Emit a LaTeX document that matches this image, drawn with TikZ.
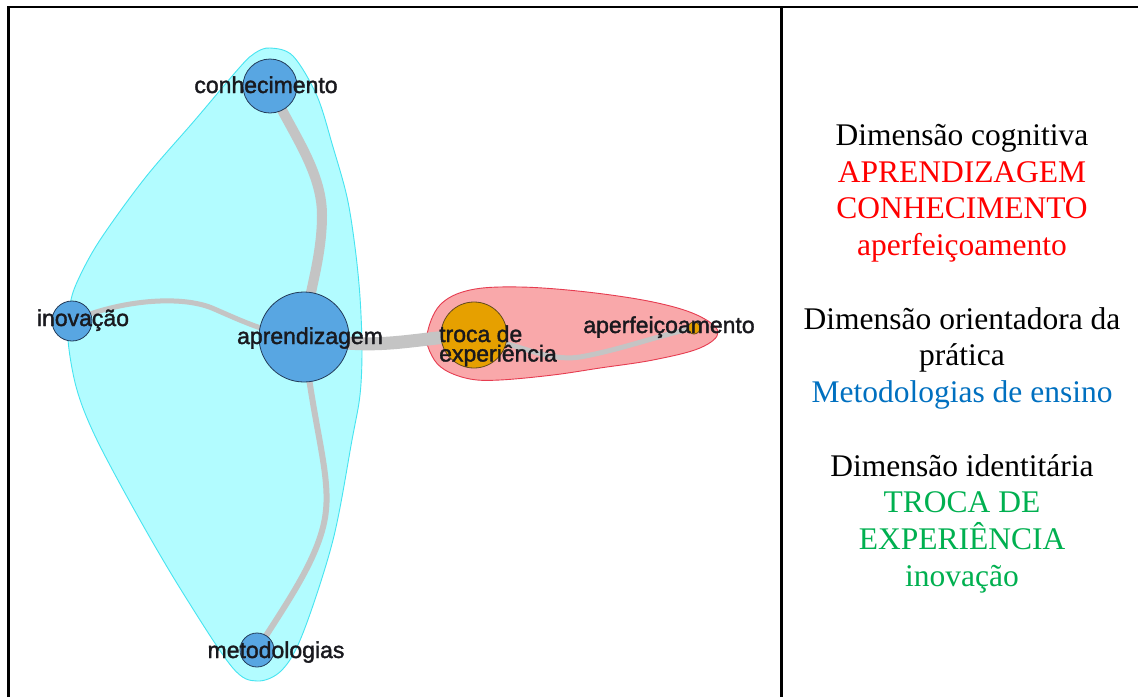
\documentclass[tikz,border=0pt]{standalone}
\usepackage{fontspec}
\setmainfont{Liberation Serif}
\newfontfamily\graphfont[FakeBold=1.6]{Liberation Sans}
\begin{document}
\begin{tikzpicture}[x=1pt,y=-1pt,
  hullcyan/.style={fill=cyanfill,draw=cyanline,line width=0.9pt},
  hullred/.style={fill=redfill,draw=redline,line width=0.9pt},
  edgeline/.style={draw=edgegray,line cap=round},
  vblue/.style={circle,fill=vtxblue,draw=vtxline,line width=0.8pt,inner sep=0pt},
  vorange/.style={circle,fill=vtxorange,draw=vtxbrown,line width=0.8pt,inner sep=0pt},
  wordlabel/.style={font=\graphfont\fontsize{23}{19.5}\selectfont,text=labelink,inner sep=0pt,anchor=base},
  legend/.style={font=\fontsize{31.5}{36.7}\selectfont,align=center,inner sep=0pt,anchor=north},
  frame/.style={line width=2.7pt,black}]
\definecolor{cyanfill}{RGB}{178,252,255}
\definecolor{cyanline}{RGB}{70,228,240}
\definecolor{redfill}{RGB}{249,168,170}
\definecolor{redline}{RGB}{230,60,80}
\definecolor{edgegray}{RGB}{196,196,196}
\definecolor{vtxblue}{RGB}{88,166,226}
\definecolor{vtxline}{RGB}{35,60,90}
\definecolor{vtxorange}{RGB}{230,160,0}
\definecolor{vtxbrown}{RGB}{100,75,30}
\definecolor{labelink}{RGB}{25,25,30}
\definecolor{legred}{RGB}{255,0,0}
\definecolor{legblue}{RGB}{0,112,192}
\definecolor{leggreen}{RGB}{0,176,80}

\useasboundingbox (0,0) rectangle (1138,697);
\fill[white] (0,0) rectangle (1138,697);

% table frame
\draw[frame] (8.5,697) -- (8.5,7) -- (1138,7);
\draw[frame] (781.5,7) -- (781.5,697);

% community hulls
\draw[hullcyan] plot[smooth cycle,tension=0.55] coordinates {
  (270,48) (293,56) (317,96) (333,147) (347,197) (355,247) (360,297)
  (362,350) (360,395) (352,440) (333,540) (303,633) (282,670) (257,681)
  (232,667) (183,593) (140,520) (97,440) (77,390) (68,340) (70,305)
  (78,280) (100,240) (145,178) (195,120) (240,67) (255,53)};
\draw[hullred] plot[smooth cycle,tension=0.6] coordinates {
  (427,335) (440,305) (470,290) (520,287) (587,292) (653,302) (697,315)
  (718,332) (700,348) (653,360) (600,368) (553,375) (500,380) (470,379)
  (445,370) (432,356)};

% vertex positions
\coordinate (con) at (270,86);
\coordinate (apr) at (304,337);
\coordinate (ino) at (72,321);
\coordinate (met) at (257,650);
\coordinate (tro) at (474,335);
\coordinate (ape) at (694,328);

% edges, drawn under the vertices
\path[edgeline,line width=10pt] (con) .. controls (290,130) and (322,170) .. (322,215)
  .. controls (322,262) and (306,300) .. (apr);
\path[edgeline,line width=5pt] (ino) .. controls (120,300) and (180,295) .. (212,308)
  .. controls (240,320) and (270,335) .. (apr);
\path[edgeline,line width=6pt] (apr) .. controls (312,420) and (330,470) .. (326,510)
  .. controls (322,555) and (285,605) .. (met);
\path[edgeline,line width=13pt] (apr) .. controls (380,352) and (410,338) .. (tro);
\path[edgeline,line width=5pt] (tro) .. controls (520,345) and (550,362) .. (580,357)
  .. controls (620,350) and (660,335) .. (ape);

% vertices
\node[vblue,minimum size=54pt] (vcon) at (con) {};
\node[vblue,minimum size=90pt] (vapr) at (apr) {};
\node[vblue,minimum size=40pt] (vino) at (ino) {};
\node[vblue,minimum size=34pt] (vmet) at (met) {};
\node[vorange,minimum size=66pt] (vtro) at (tro) {};
\node[vorange,minimum size=12pt] (vape) at (ape) {};

% vertex labels
\node[wordlabel] (lcon) at (266,93) {conhecimento};
\node[wordlabel] (lapr) at (310,344) {aprendizagem};
\node[wordlabel] (lino) at (83,326) {inovação};
\node[wordlabel] (lmet) at (276,658) {metodologias};
\node[wordlabel,align=left,anchor=base west] (ltro) at (439,361.5) {troca de\\experiência};
\node[wordlabel] (lape) at (669,333) {aperfeiçoamento};

% legend column
\node[legend] (dim1) at (962,124) {Dimensão cognitiva\\
  \textcolor{legred}{APRENDIZAGEM}\\
  \textcolor{legred}{CONHECIMENTO}\\
  \textcolor{legred}{aperfeiçoamento}};
\node[legend] (dim2) at (962,307) {Dimensão orientadora da\\
  prática\\
  \textcolor{legblue}{Metodologias de ensino}};
\node[legend] (dim3) at (962,454) {Dimensão identitária\\
  \textcolor{leggreen}{TROCA DE}\\
  \textcolor{leggreen}{EXPERIÊNCIA}\\
  \textcolor{leggreen}{inovação}};
\end{tikzpicture}
\end{document}
